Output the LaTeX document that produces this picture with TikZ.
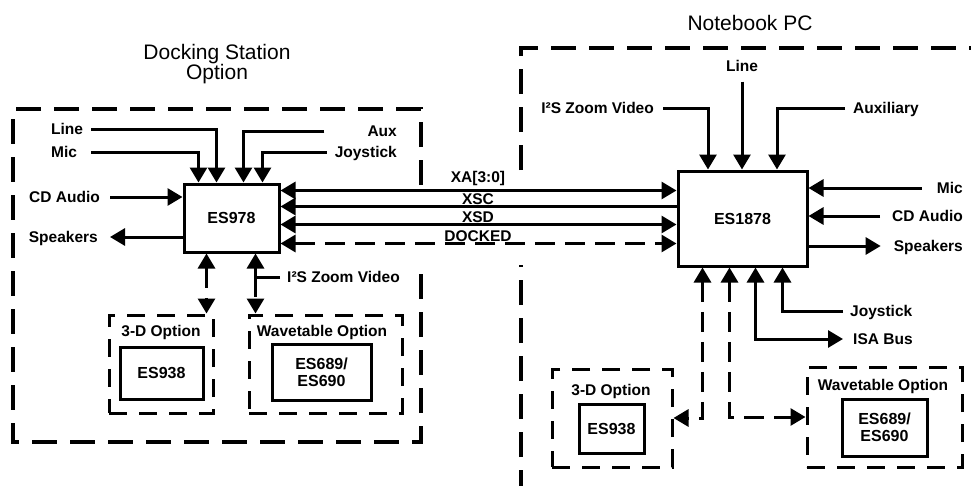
\documentclass[tikz,border=0pt]{standalone}
\usepackage{fontspec}
\setmainfont{Liberation Sans}
\usetikzlibrary{arrows.meta}
\begin{document}
\begin{tikzpicture}[x=1pt, y=-1pt,
    >={Triangle[width=17pt, length=15pt]},
    chip/.style={draw, line width=3pt, inner sep=0pt, align=center,
      font=\fontsize{16}{17}\selectfont\bfseries},
    lbl/.style={inner sep=0pt, text height=11pt, text depth=0pt,
      font=\fontsize{15.5}{17}\selectfont\bfseries},
    ttl/.style={inner sep=0pt, align=center, font=\fontsize{21}{18}\selectfont},
    optbox/.style={draw, line width=3pt, dash pattern=on 18pt off 12pt, inner sep=0pt},
    outer/.style={line width=3.5pt, dash pattern=on 25pt off 13pt},
    sig/.style={line width=3pt},
    dl/.style={line width=3pt, dash pattern=on 20pt off 10pt}
  ]
  \useasboundingbox (0,0) rectangle (971,485);

  % docking station side
  \draw[outer] (421,185) -- (421,109) -- (13,109) -- (13,442) -- (421,442) -- (421,267);
  \node[ttl] (dock) at (217,64) {Docking Station\\Option};
  \node[chip, minimum width=95pt, minimum height=68pt] (es978) at (231.5,218) {ES978};

  \node[lbl, anchor=west] (lineL) at (51,129) {Line};
  \node[lbl, anchor=west] (micL) at (51,152) {Mic};
  \node[lbl, anchor=east] (auxL) at (397,131) {Aux};
  \node[lbl, anchor=east] (joyL) at (397,152) {Joystick};
  \node[lbl, anchor=east] (cdL) at (100,197) {CD Audio};
  \node[lbl, anchor=east] (spkL) at (98,237) {Speakers};
  \node[lbl, anchor=west] (i2sL) at (287,277) {I²S Zoom Video};

  \draw[sig, ->] ([xshift=8pt]lineL.east) -| ([xshift=34pt]es978.north west);
  \draw[sig, ->] ([xshift=14pt]micL.east) -| ([xshift=16pt]es978.north west);
  \draw[sig, ->] ([xshift=-43pt]auxL.west) -| ([xshift=61pt]es978.north west);
  \draw[sig, ->] ([xshift=-8pt]joyL.west) -| ([xshift=80pt]es978.north west);
  \draw[sig, ->] ([xshift=10pt]cdL.east) -- (cdL.east -| es978.west);
  \draw[sig, ->] (spkL.east -| es978.west) -- ([xshift=12pt]spkL.east);

  % options under the docking chip
  \node[optbox, minimum width=104pt, minimum height=98pt] (opt3dL) at (161,364) {};
  \node[lbl] (t3dL) at (161,331) {3-D Option};
  \node[chip, minimum width=83pt, minimum height=52pt] (es938L) at (161.5,373) {ES938};
  \node[optbox, minimum width=153pt, minimum height=98pt] (wtL) at (325.5,364) {};
  \node[lbl] (twtL) at (322,331) {Wavetable Option};
  \node[chip, minimum width=99pt, minimum height=56pt] (es689L) at (321.5,372) {ES689/\\ES690};

  \draw[dl, <->] ([xshift=24pt]es978.south west) -- ([xshift=24pt]es978.south west |- opt3dL.north);
  \draw[sig, ->] ([xshift=-7pt]i2sL.west) -| ([xshift=73pt]es978.south west);
  \draw[dl, ->] ([xshift=73pt]es978.south west |- i2sL.west) -- ([xshift=73pt]es978.south west |- wtL.north);

  % notebook side
  \draw[outer] (521,495) -- (521,265);
  \draw[outer] (521,170) -- (521,48) -- (990,48);
  \node[ttl] (nbpc) at (750,23) {Notebook PC};
  \node[chip, minimum width=129pt, minimum height=95pt] (es1878) at (742.5,218.5) {ES1878};

  \node[lbl] (lineR) at (742,66) {Line};
  \node[lbl, anchor=east] (i2sR) at (654,108) {I²S Zoom Video};
  \node[lbl, anchor=west] (auxR) at (853,108) {Auxiliary};
  \node[lbl, anchor=east] (micR) at (963,188) {Mic};
  \node[lbl, anchor=east] (cdR) at (963,216) {CD Audio};
  \node[lbl, anchor=east] (spkR) at (963,246) {Speakers};
  \node[lbl, anchor=west] (joyR) at (850,311) {Joystick};
  \node[lbl, anchor=west] (isa) at (853,339) {ISA Bus};

  \draw[sig, ->] ([yshift=-10pt]lineR.south) -- (lineR.south |- es1878.north);
  \draw[sig, ->] ([xshift=9pt]i2sR.east) -| ([xshift=-34.5pt]es1878.north);
  \draw[sig, ->] ([xshift=-8pt]auxR.west) -| ([xshift=34.5pt]es1878.north);
  \draw[sig, ->] ([xshift=-15pt]micR.west) -- (micR.west -| es1878.east);
  \draw[sig, ->] ([xshift=-12pt]cdR.west) -- (cdR.west -| es1878.east);
  \draw[sig, ->] (spkR.west -| es1878.east) -- ([xshift=-13pt]spkR.west);
  \draw[sig, ->] ([xshift=-7pt]joyR.west) -| ([xshift=106pt]es1878.south west);
  \draw[sig, <->] ([xshift=79pt]es1878.south west) |- ([xshift=-10pt]isa.west);

  % options under the notebook chip
  \node[optbox, minimum width=120pt, minimum height=98pt] (opt3dR) at (612,418) {};
  \node[lbl] (t3dR) at (611,390) {3-D Option};
  \node[chip, minimum width=65pt, minimum height=49pt] (es938R) at (611.5,428.5) {ES938};
  \node[optbox, minimum width=155pt, minimum height=100pt] (wtR) at (884.5,417) {};
  \node[lbl] (twtR) at (883,385) {Wavetable Option};
  \node[chip, minimum width=85pt, minimum height=57pt] (es689R) at (884.5,427.5) {ES689/\\ES690};

  \draw[dl, <->] ([xshift=26pt]es1878.south west) |- (opt3dR.east);
  \draw[dl, <->] ([xshift=53pt]es1878.south west) |- (wtR.west);

  % bus between the two chips
  \draw[sig, <->] ([yshift=-8pt]es978.north east) -- ([yshift=-8pt]es978.north east -| es1878.west);
  \draw[sig, <-] ([yshift=-24pt]es978.north east) -- ([yshift=-24pt]es978.north east -| es1878.west);
  \draw[sig, <->] ([yshift=-42pt]es978.north east) -- ([yshift=-42pt]es978.north east -| es1878.west);
  \draw[dl, <->] ([yshift=-61pt]es978.north east) -- ([yshift=-61pt]es978.north east -| es1878.west);
  \node[lbl] (xa) at (478,177) {XA[3:0]};
  \node[lbl] (xsc) at (478,198.5) {XSC};
  \node[lbl] (xsd) at (478,216.5) {XSD};
  \node[lbl] (docked) at (478,235.5) {DOCKED};
\end{tikzpicture}
\end{document}
